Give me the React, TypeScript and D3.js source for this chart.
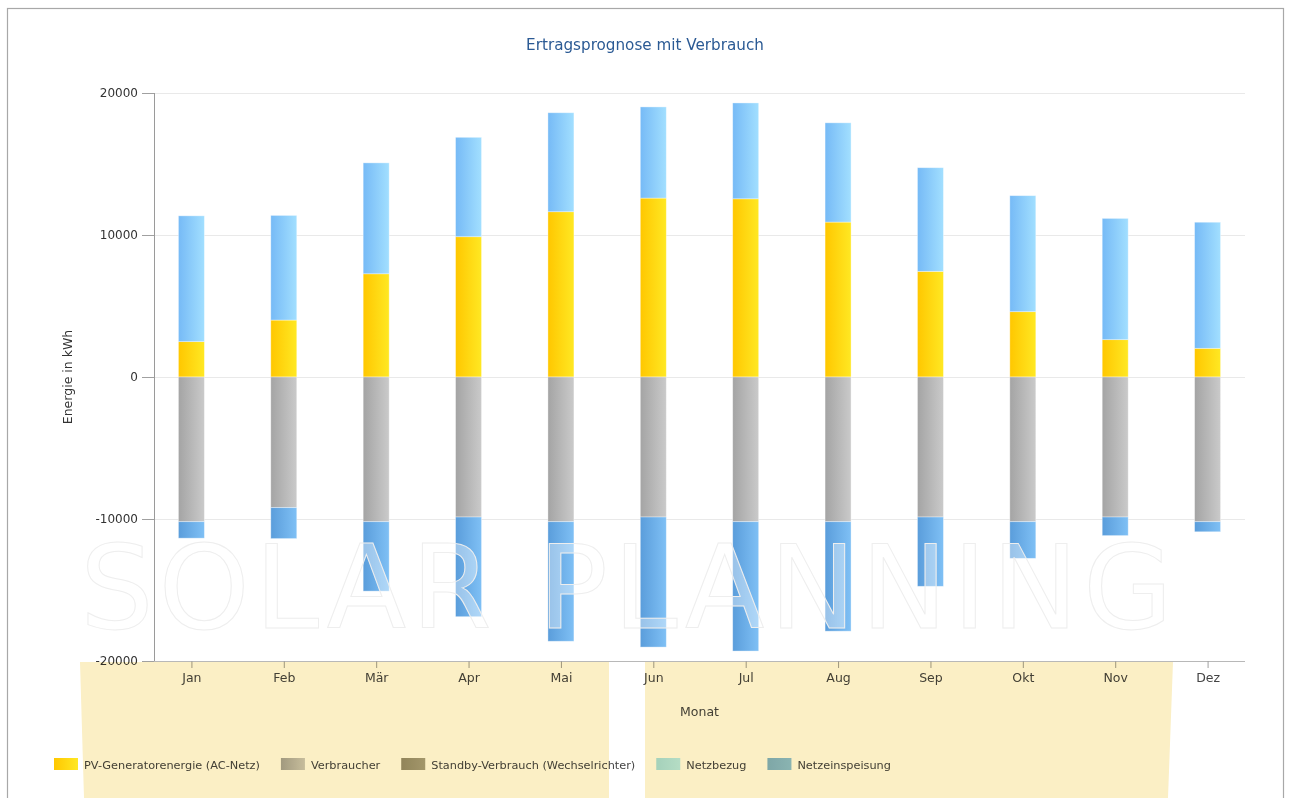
import { useEffect, useRef } from 'react';
import * as d3 from 'd3';

const months = ['Jan', 'Feb', 'Mär', 'Apr', 'Mai', 'Jun', 'Jul', 'Aug', 'Sep', 'Okt', 'Nov', 'Dez'];

// kWh per month
const pvEnergie = [2490, 4010, 7270, 9880, 11640, 12600, 12550, 10910, 7440, 4600, 2630, 2020];
const netzbezug = [8860, 7370, 7810, 7000, 6970, 6420, 6750, 6990, 7300, 8170, 8540, 8880];
const verbraucher = [10190, 9200, 10190, 9860, 10190, 9860, 10190, 10190, 9860, 10190, 9860, 10190];
const standby = [0, 0, 0, 0, 0, 0, 0, 0, 0, 0, 0, 0];
const netzeinspeisung = [1160, 2180, 4890, 7020, 8420, 9160, 9110, 7710, 4880, 2580, 1310, 710];

const yTicks = [-20000, -10000, 0, 10000, 20000];

const legendLabels = [
  'PV-Generatorenergie (AC-Netz)',
  'Verbraucher',
  'Standby-Verbrauch (Wechselrichter)',
  'Netzbezug',
  'Netzeinspeisung',
];

const W = 1290;
const H = 798;
const FONT = '"DejaVu Sans", Verdana, sans-serif';

export default function App() {
  const svgRef = useRef<SVGSVGElement>(null);

  useEffect(() => {
    if (!svgRef.current) return;
    const svg = d3.select(svgRef.current);
    svg.selectAll('*').remove();

    const left = 154;
    const right = 1245;
    const top = 93;
    const bottom = 661;
    const barW = 26;

    // gradients
    const defs = svg.append('defs');
    const grads: Record<string, [string, string]> = {
      pv: ['#ffc700', '#ffe823'],
      bezug: ['#76baf6', '#a2dfff'],
      verbraucher: ['#a4a4a4', '#cacaca'],
      standby: ['#938d74', '#a6a18a'],
      einspeisung: ['#5a9ddb', '#7fc0f5'],
      legBezug: ['#a8e0f2', '#b8ecff'],
      legEinsp: ['#80b2d8', '#8cc0e6'],
    };
    Object.entries(grads).forEach(([id, [c0, c1]]) => {
      const lg = defs.append('linearGradient').attr('id', `g-${id}`).attr('x1', 0).attr('x2', 1).attr('y1', 0).attr('y2', 0);
      lg.append('stop').attr('offset', '0%').attr('stop-color', c0);
      lg.append('stop').attr('offset', '100%').attr('stop-color', c1);
    });

    svg.append('rect').attr('width', W).attr('height', H).attr('fill', '#fff');

    // frame
    svg.append('rect')
      .attr('x', 7.5).attr('y', 8.5)
      .attr('width', 1276).attr('height', 820)
      .attr('fill', 'none').attr('stroke', '#a8a8a8').attr('stroke-width', 1.2);

    const x = d3.scalePoint<string>().domain(months).range([left, right]).padding(0.405);
    const y = d3.scaleLinear().domain([-20000, 20000]).range([bottom, top]);

    // title
    svg.append('text')
      .attr('x', W / 2).attr('y', 50)
      .attr('text-anchor', 'middle')
      .attr('font-family', FONT).attr('font-size', 15.2)
      .attr('fill', '#2b5a94')
      .text('Ertragsprognose mit Verbrauch');

    // grid
    svg.append('g')
      .selectAll('line')
      .data(yTicks.filter((t) => t !== -20000))
      .join('line')
      .attr('x1', left).attr('x2', right)
      .attr('y1', (d) => Math.round(y(d)) + 0.5).attr('y2', (d) => Math.round(y(d)) + 0.5)
      .attr('stroke', '#e9e9e9');

    // stacked bars
    const rows = months.map((m, i) => ({
      month: m,
      pv: pvEnergie[i],
      bezug: netzbezug[i],
      verbraucher: -verbraucher[i],
      standby: -standby[i],
      einspeisung: -netzeinspeisung[i],
    }));
    const keys = ['pv', 'bezug', 'verbraucher', 'standby', 'einspeisung'];
    const series = d3.stack<(typeof rows)[0]>()
      .keys(keys)
      .offset(d3.stackOffsetDiverging)(rows);

    const bars = svg.append('g');
    series.forEach((s) => {
      bars.append('g')
        .attr('fill', `url(#g-${s.key})`)
        .selectAll('rect')
        .data(s.filter((d) => d[1] !== d[0]))
        .join('rect')
        .attr('x', (d) => (x(d.data.month) as number) - barW / 2)
        .attr('width', barW)
        .attr('y', (d) => y(Math.max(d[0], d[1])))
        .attr('height', (d) => Math.abs(y(d[0]) - y(d[1])))
        .attr('stroke', 'rgba(255,255,255,0.45)')
        .attr('stroke-width', 0.8);
    });

    // watermark
    svg.append('text')
      .attr('x', 80).attr('y', 628)
      .attr('textLength', 1093).attr('lengthAdjust', 'spacing')
      .attr('font-family', FONT).attr('font-size', 116)
      .attr('fill', 'rgba(255,255,255,0.38)')
      .attr('stroke', '#eeeeee').attr('stroke-width', 1)
      .text('SOLAR PLANNING');

    // y axis
    const yAxis = svg.append('g').attr('transform', `translate(${left},0)`)
      .call(d3.axisLeft(y).tickValues(yTicks).tickSize(12).tickPadding(4).tickFormat((d) => String(d)));
    yAxis.select('.domain').attr('stroke', '#9a9a9a').attr('d', `M0.5,${top}V${bottom}`);
    yAxis.selectAll('.tick line').attr('stroke', '#a0a0a0');
    yAxis.selectAll('.tick text').attr('fill', '#333').attr('font-size', 12).attr('font-family', FONT);

    svg.append('text')
      .attr('transform', `translate(72,${(top + bottom) / 2}) rotate(-90)`)
      .attr('text-anchor', 'middle')
      .attr('font-family', FONT).attr('font-size', 12.5)
      .attr('fill', '#333')
      .text('Energie in kWh');

    // x axis
    const xAxis = svg.append('g').attr('transform', `translate(0,${bottom})`)
      .call(d3.axisBottom(x).tickSize(7).tickPadding(5));
    xAxis.select('.domain').attr('stroke', '#b8b8b8').attr('d', `M${left},0.5H${right}`);
    xAxis.selectAll('.tick line').attr('stroke', '#a0a0a0');
    xAxis.selectAll('.tick text').attr('fill', '#444').attr('font-size', 12.5).attr('font-family', FONT);

    svg.append('text')
      .attr('x', (left + right) / 2).attr('y', 716)
      .attr('text-anchor', 'middle')
      .attr('font-family', FONT).attr('font-size', 12.5)
      .attr('fill', '#444')
      .text('Monat');

    // legend
    const legendFill = ['url(#g-pv)', 'url(#g-verbraucher)', 'url(#g-standby)', 'url(#g-legBezug)', 'url(#g-legEinsp)'];
    const legend = svg.append('g');
    let lx = 54;
    legendLabels.forEach((label, i) => {
      legend.append('rect')
        .attr('x', lx).attr('y', 758).attr('width', 24).attr('height', 12)
        .attr('fill', legendFill[i]);
      const t = legend.append('text')
        .attr('x', lx + 30).attr('y', 769)
        .attr('font-family', FONT).attr('font-size', 11.3)
        .attr('fill', '#444')
        .text(label);
      const w = (t.node() as SVGTextElement).getComputedTextLength();
      lx += 30 + w + 21;
    });

    // yellow highlight band at the bottom
    const band = svg.append('g').style('mix-blend-mode', 'multiply');
    band.append('path')
      .attr('d', 'M80,662 L609,662 L609,798 L84,798 Z')
      .attr('fill', '#fbefc5');
    band.append('path')
      .attr('d', 'M645,662 L1173,662 L1168,798 L645,798 Z')
      .attr('fill', '#fbefc5');
  }, []);

  return (
    <div style={{ position: 'absolute', left: 0, top: 0, width: W, height: H, overflow: 'hidden' }}>
      <svg ref={svgRef} width={W} height={H} style={{ display: 'block' }} />
    </div>
  );
}
